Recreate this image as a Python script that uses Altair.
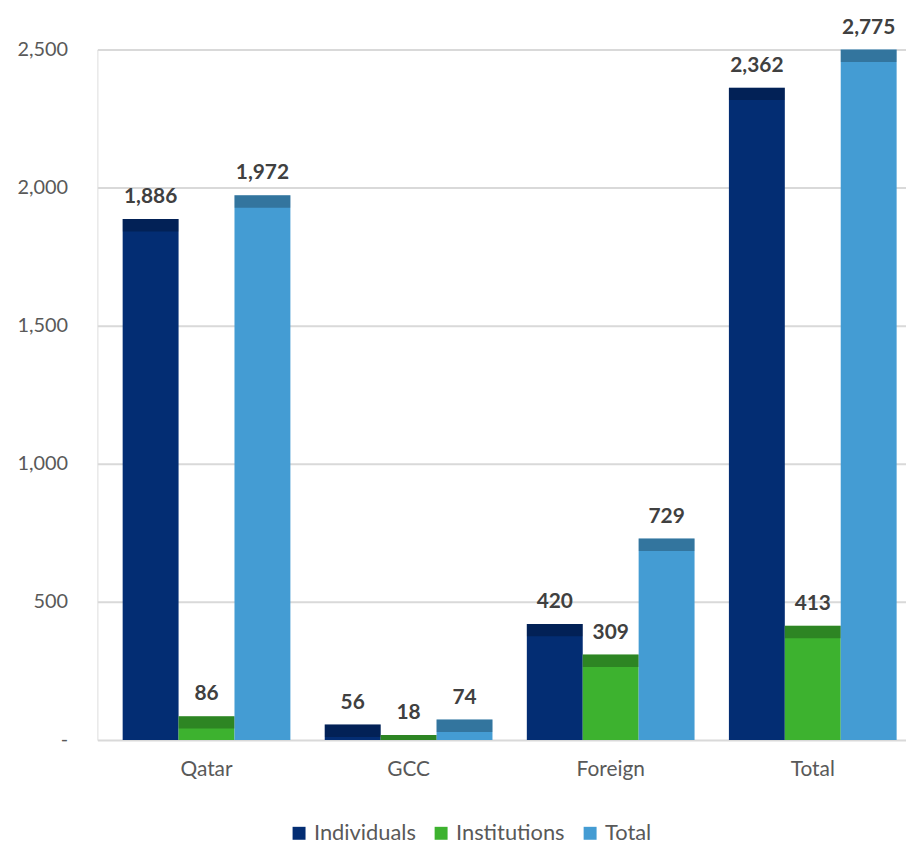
import altair as alt
import pandas as pd

categories = ["Qatar", "GCC", "Foreign", "Total"]
series = ["Individuals", "Institutions", "Total"]
individuals = [1886, 56, 420, 2362]
institutions = [86, 18, 309, 413]
totals = [1972, 74, 729, 2775]
y_ticks = [0, 500, 1000, 1500, 2000, 2500]

colors = ["#032d73", "#3db22f", "#449cd3"]

rows = []
for i, c in enumerate(categories):
    for s, vals in zip(series, [individuals, institutions, totals]):
        rows.append({"category": c, "series": s, "value": vals[i]})
df = pd.DataFrame(rows)

FONT = "Lato"
YMAX = 2500

base = alt.Chart(df).transform_calculate(
    label_y=f"min(datum.value, {YMAX})"
).transform_calculate(
    face_y="max(datum.label_y - 45, 0)"
)

x_enc = alt.X(
    "category:N",
    sort=categories,
    scale=alt.Scale(paddingInner=0.17, paddingOuter=0.125, range=[0, 830]),
    axis=alt.Axis(
        title=None, domain=False, ticks=False, labelAngle=0,
        labelFontSize=21, labelColor="#595959", labelPadding=19, labelFont=FONT,
    ),
)
xo_enc = alt.XOffset("series:N", sort=series, scale=alt.Scale(paddingInner=0, paddingOuter=0))
y_scale = alt.Scale(domain=[0, YMAX], nice=False, zero=True)

bars = base.mark_bar(clip=True).encode(
    x=x_enc,
    xOffset=xo_enc,
    y=alt.Y(
        "value:Q",
        scale=y_scale,
        axis=alt.Axis(
            title=None, values=y_ticks, domain=False, ticks=False,
            labelExpr="datum.value == 0 ? '-' : format(datum.value, ',')",
            labelFontSize=20, labelColor="#595959", labelPadding=30, labelFont=FONT,
            gridColor="#d9d9d9", gridWidth=2,
        ),
    ),
    color=alt.Color(
        "series:N",
        sort=series,
        scale=alt.Scale(domain=series, range=colors),
        legend=alt.Legend(
            title=None, orient="none", direction="horizontal",
            legendX=192, legendY=778,
            symbolType="square", symbolSize=170, symbolStrokeWidth=0,
            labelFontSize=22, labelColor="#595959", labelFont=FONT,
            labelOffset=4, columnPadding=14,
        ),
    ),
)

faces = base.mark_bar(clip=True).encode(
    x=x_enc,
    xOffset=xo_enc,
    y=alt.Y("label_y:Q", scale=y_scale),
    y2="face_y:Q",
    color=alt.value("black"),
    opacity=alt.value(0.25),
)

labels = base.mark_text(
    baseline="bottom", dy=-12, fontSize=21, fontWeight="bold", color="#404040", font=FONT
).encode(
    x=x_enc,
    xOffset=xo_enc,
    y=alt.Y("label_y:Q", scale=y_scale),
    text=alt.Text("value:Q", format=","),
)

chart = alt.layer(bars, faces, labels).properties(
    width=814,
    height=695,
    autosize=alt.AutoSizeParams(type="none"),
    padding={"left": 90, "top": 39, "right": 0, "bottom": 106},
).configure_view(stroke=None).configure(font=FONT)

chart.save("out.html", embed_options={"renderer": "svg", "actions": False})
